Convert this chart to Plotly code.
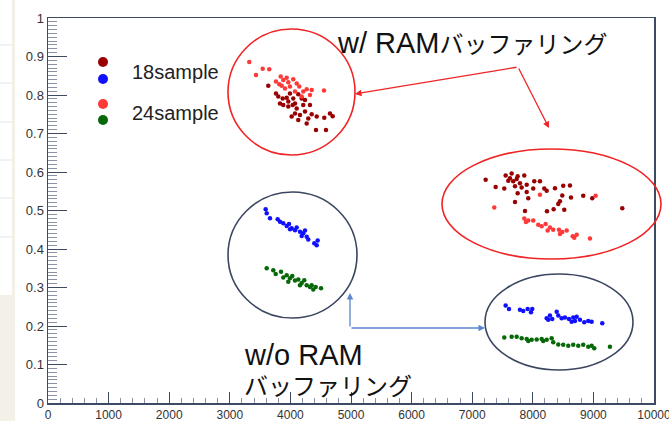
import plotly.graph_objects as go

# ---- data ----
# 18sample, with RAM buffering (dark red)
s18_ram_x = [3635, 3762, 3800, 3873, 3828, 3939, 3993, 4047, 4130, 4186, 3882, 3965, 4038, 4104, 4212, 4323,
             4076, 4158, 4241, 4351, 4434, 4021, 4130, 4269, 4295, 4653, 4698, 4559, 4422, 4587, 3965, 4076, 4241,
             7222, 7387, 7529, 7552, 7651, 7595, 7677, 7750, 7788, 7859, 7706, 7816, 7899, 7750, 7899, 7925, 8024,
             8118, 8007, 8189, 8229, 8366, 8502, 8613, 8486, 8630, 8832, 8981, 8448, 8420, 7706, 7871, 8234, 8344,
             8519, 9476, 7623, 7734]
s18_ram_y = [0.824, 0.804, 0.796, 0.791, 0.778, 0.793, 0.804, 0.791, 0.802, 0.791, 0.774, 0.770, 0.774, 0.765,
             0.774, 0.774, 0.752, 0.748, 0.757, 0.750, 0.744, 0.744, 0.735, 0.726, 0.739, 0.752, 0.745, 0.741,
             0.709, 0.709, 0.783, 0.778, 0.787,
             0.580, 0.561, 0.557, 0.591, 0.596, 0.577, 0.576, 0.589, 0.571, 0.591, 0.563, 0.560, 0.567, 0.545,
             0.548, 0.532, 0.576, 0.576, 0.557, 0.557, 0.551, 0.558, 0.564, 0.565, 0.539, 0.534, 0.538, 0.532,
             0.524, 0.517, 0.522, 0.499, 0.498, 0.503, 0.502, 0.506, 0.584, 0.582]

# 18sample, without RAM buffering (blue)
s18_noram_x = [3592, 3609, 3663, 3790, 3828, 3882, 3939, 3977, 4021, 4076, 4104, 4158, 4212, 4241, 4269, 4295,
               4394, 4450, 4434, 3993, 4186,
               7552, 7607, 7788, 7842, 7915, 7970, 7991, 8229, 8283, 8321, 8394, 8420, 8476, 8531, 8597, 8667,
               8696, 8724, 8778, 8849, 8915, 8971, 9146, 8255, 8641]
s18_noram_y = [0.503, 0.493, 0.480, 0.477, 0.471, 0.467, 0.460, 0.465, 0.454, 0.449, 0.456, 0.445, 0.441, 0.448,
               0.432, 0.425, 0.415, 0.422, 0.410, 0.451, 0.434,
               0.253, 0.244, 0.242, 0.239, 0.244, 0.236, 0.244, 0.220, 0.227, 0.218, 0.237, 0.227, 0.220, 0.222,
               0.218, 0.222, 0.213, 0.224, 0.216, 0.210, 0.213, 0.211, 0.207, 0.216, 0.211]

# 24sample, with RAM buffering (light red)
s24_ram_x = [3321, 3432, 3543, 3651, 3762, 3840, 3882, 3939, 3965, 4047, 4104, 4146, 3856, 3911, 3993, 4212,
             4269, 4351, 4554, 4076, 4186, 3816, 4323,
             7364, 8118, 9037, 7859, 7925, 8007, 7887, 8090, 8146, 8212, 8283, 8245, 8337, 8432, 8486, 8559,
             8448, 8658, 8724, 8684, 8943]
s24_ram_y = [0.886, 0.852, 0.868, 0.867, 0.835, 0.848, 0.839, 0.845, 0.833, 0.841, 0.830, 0.822, 0.824, 0.817,
             0.822, 0.809, 0.815, 0.813, 0.812, 0.809, 0.796, 0.828, 0.800,
             0.508, 0.541, 0.538, 0.479, 0.474, 0.474, 0.470, 0.463, 0.459, 0.465, 0.456, 0.448, 0.450, 0.450,
             0.444, 0.448, 0.439, 0.433, 0.437, 0.429, 0.427]

# 24sample, without RAM buffering (green)
s24_noram_x = [3609, 3717, 3757, 3845, 3882, 3939, 3993, 4031, 4076, 4130, 4186, 4229, 4269, 4323, 4377, 4351,
               4417, 4505, 4158, 3965,
               7529, 7651, 7734, 7816, 7899, 7981, 8064, 8146, 8229, 8311, 8337, 8420, 8502, 8585, 8667, 8750,
               8832, 8915, 8971, 9014, 9273, 7925, 8172]
s24_noram_y = [0.350, 0.345, 0.335, 0.341, 0.326, 0.332, 0.324, 0.330, 0.318, 0.321, 0.312, 0.319, 0.306, 0.301,
               0.295, 0.306, 0.301, 0.298, 0.306, 0.315,
               0.170, 0.172, 0.172, 0.168, 0.166, 0.164, 0.165, 0.166, 0.164, 0.168, 0.158, 0.152, 0.151, 0.149,
               0.151, 0.149, 0.151, 0.146, 0.149, 0.142, 0.146, 0.161, 0.161]

legend_labels = ["18sample", "24sample"]
ram_latin, ram_kana = "w/ RAM", "バッファリング"
noram_latin, noram_kana = "w/o RAM", "バッファリング"

C_DRED = "#990000"
C_BLUE = "#1010ff"
C_RED = "#ff3838"
C_GREEN = "#066806"
FRAME = "#3d4a63"
TXT = "#222222"
LATIN = "Liberation Sans, Arial, sans-serif"
JP = "Liberation Sans, Noto Sans CJK JP, sans-serif"

fig = go.Figure()
for xs, ys, col, nm in [(s18_ram_x, s18_ram_y, C_DRED, "18sample w/ RAM"),
                        (s18_noram_x, s18_noram_y, C_BLUE, "18sample w/o RAM"),
                        (s24_ram_x, s24_ram_y, C_RED, "24sample w/ RAM"),
                        (s24_noram_x, s24_noram_y, C_GREEN, "24sample w/o RAM")]:
    fig.add_trace(go.Scatter(x=xs, y=ys, mode="markers", name=nm,
                             marker=dict(color=col, size=4.5, line=dict(width=0))))

# plot area geometry (pixels) for overlay placement
L, R, T, B = 48, 654, 18, 403
W, H = R - L, B - T
def px(x):
    return (x - L) / W
def py(y):
    return (B - y) / H

shapes = []
# slide background strip at left
shapes.append(dict(type="rect", xref="paper", yref="paper", x0=px(0), x1=px(15), y0=py(295), y1=py(421),
                   fillcolor="#f3f0e8", line=dict(width=0), layer="below"))
shapes.append(dict(type="rect", xref="paper", yref="paper", x0=px(12), x1=px(15), y0=py(421), y1=py(0),
                   fillcolor="#f3f0e8", line=dict(width=0), layer="below"))
for yy in [45, 83, 122, 160, 198, 237]:
    shapes.append(dict(type="line", xref="paper", yref="paper", x0=px(0), x1=px(12), y0=py(yy), y1=py(yy),
                       line=dict(color="#dfe4ee", width=1)))
# ellipses
shapes.append(dict(type="circle", xref="paper", yref="paper", x0=px(228), x1=px(355), y0=py(155), y1=py(29),
                   line=dict(color="#f02424", width=1.6)))
shapes.append(dict(type="circle", xref="paper", yref="paper", x0=px(442), x1=px(661), y0=py(259), y1=py(149),
                   line=dict(color="#f02424", width=1.6)))
shapes.append(dict(type="circle", xref="paper", yref="paper", x0=px(228), x1=px(357), y0=py(318), y1=py(192),
                   line=dict(color="#3a4660", width=1.6)))
shapes.append(dict(type="circle", xref="paper", yref="paper", x0=px(485), x1=px(633), y0=py(370), y1=py(274),
                   line=dict(color="#3a4660", width=1.6)))
# legend markers
for cy, col in [(62, C_DRED), (79, C_BLUE), (104, C_RED), (120, C_GREEN)]:
    shapes.append(dict(type="circle", xref="paper", yref="paper", x0=px(98), x1=px(108), y0=py(cy + 5),
                       y1=py(cy - 5), fillcolor=col, line=dict(width=0)))

def mixed(latin, kana):
    return (f"<span style='font-size:29px'>{latin}</span>" if latin else "") + \
           (f"<span style='font-size:24px'>{kana}</span>" if kana else "")

annotations = []
annotations.append(dict(xref="paper", yref="paper", x=px(130), y=py(72), text=legend_labels[0], showarrow=False,
                        xanchor="left", yanchor="middle", font=dict(family=LATIN, size=20, color=TXT)))
annotations.append(dict(xref="paper", yref="paper", x=px(130), y=py(113), text=legend_labels[1], showarrow=False,
                        xanchor="left", yanchor="middle", font=dict(family=LATIN, size=20, color=TXT)))
annotations.append(dict(xref="paper", yref="paper", x=px(335), y=py(43), text=mixed(ram_latin, ram_kana),
                        showarrow=False, xanchor="left", yanchor="middle",
                        font=dict(family=JP, size=24, color="#111111")))
annotations.append(dict(xref="paper", yref="paper", x=px(242), y=py(355), text=mixed(noram_latin, ""),
                        showarrow=False, xanchor="left", yanchor="middle",
                        font=dict(family=JP, size=29, color="#111111")))
annotations.append(dict(xref="paper", yref="paper", x=px(242), y=py(386), text=mixed("", noram_kana),
                        showarrow=False, xanchor="left", yanchor="middle",
                        font=dict(family=JP, size=24, color="#111111")))
# arrows
for hx, hy, tx, ty, col in [(355, 94, 518, 67, "#f02424"), (549, 128, 518, 67, "#f02424"),
                            (350, 293, 350, 328, "#5b86cf"), (485, 328, 350, 328, "#5b86cf")]:
    annotations.append(dict(xref="paper", yref="paper", x=px(hx), y=py(hy), ax=tx - hx, ay=ty - hy,
                            text="", showarrow=True, arrowhead=2, arrowsize=1.0, arrowwidth=1.3,
                            arrowcolor=col))

fig.update_layout(
    width=669, height=421,
    margin=dict(l=L, r=669 - R, t=T, b=421 - B, pad=0),
    paper_bgcolor="white", plot_bgcolor="white",
    showlegend=False, hovermode=False,
    shapes=shapes, annotations=annotations,
    xaxis=dict(range=[0, 10000], tick0=0, dtick=1000, tickformat="d", ticks="inside", ticklen=11, tickwidth=1,
               tickcolor=FRAME, showgrid=False, zeroline=False, showline=True, linecolor=FRAME, linewidth=1.5,
               mirror=True, automargin=False, ticklabeloverflow="allow",
               minor=dict(dtick=200, ticks="inside", ticklen=5, tickcolor="#8892a4", showgrid=False),
               tickfont=dict(family=LATIN, size=12, color="#333333")),
    yaxis=dict(range=[0, 1], tick0=0, dtick=0.1, ticks="inside", ticklen=19, tickwidth=1,
               tickcolor=FRAME, showgrid=False, zeroline=False, showline=True, linecolor=FRAME, linewidth=1.5,
               mirror=True, automargin=False, ticklabeloverflow="allow",
               minor=dict(dtick=0.01, ticks="inside", ticklen=9, tickcolor="#8892a4", showgrid=False),
               tickfont=dict(family=LATIN, size=13, color="#333333")),
)

fig.write_html("out.html", config={"displayModeBar": False, "staticPlot": True},
               post_script="document.body.style.margin='0';document.body.style.overflow='hidden';")
